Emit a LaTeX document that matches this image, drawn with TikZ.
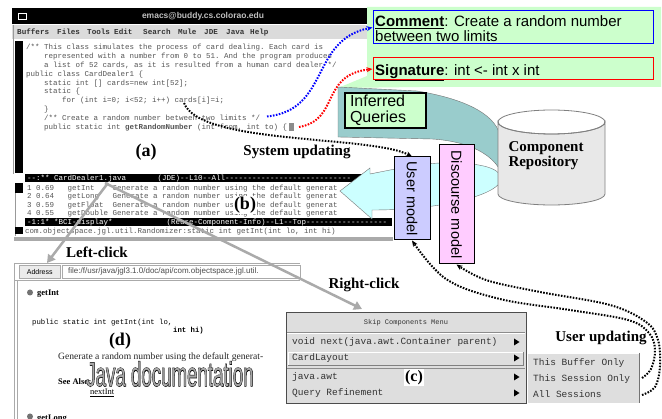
\documentclass[tikz,border=0pt]{standalone}
\usepackage{fontspec}
\usepackage{graphicx}
\setmainfont{Liberation Serif}
\setsansfont{Liberation Sans}
\setmonofont{Liberation Mono}
\newfontfamily\jdocB[FakeBold=3]{Liberation Sans}
\newfontfamily\jdocR{Liberation Sans}
\usetikzlibrary{arrows.meta,shapes.geometric}
\definecolor{calloutgreen}{RGB}{204,255,204}
\definecolor{tealq}{RGB}{153,204,204}
\definecolor{cyanarr}{RGB}{204,255,255}
\definecolor{umodel}{RGB}{204,204,255}
\definecolor{dmodel}{RGB}{255,204,255}
\definecolor{repo}{RGB}{232,232,232}
\definecolor{codegray}{RGB}{85,85,85}
\definecolor{menugray}{RGB}{222,222,222}
\definecolor{framegray}{RGB}{170,170,170}
\tikzset{
  code/.style={anchor=base west, inner sep=0pt, font=\ttfamily\fontsize{7.5}{9}\selectfont, text=codegray},
  modetxt/.style={anchor=base west, inner sep=0pt, font=\ttfamily\fontsize{7.5}{9}\selectfont, text=white},
  menubar/.style={anchor=base west, inner sep=0pt, font=\ttfamily\bfseries\fontsize{7.6}{9}\selectfont, text=black!80},
  lab/.style={font=\bfseries\fontsize{15}{15}\selectfont, inner sep=1pt},
  panel/.style={font=\bfseries\fontsize{18}{18}\selectfont, inner sep=1pt},
  menuitem/.style={anchor=base west, inner sep=0pt, font=\ttfamily\fontsize{9.5}{11}\selectfont, text=black!80},
  sansbig/.style={anchor=base west, inner sep=0pt, font=\sffamily\fontsize{15}{15}\selectfont},
  dotline/.style={line width=2pt, dash pattern=on 1.6pt off 1.4pt},
  grayarrow/.style={draw=framegray, line width=2.5pt, -{Triangle[length=8pt,width=9pt]}},
  modelbox/.style={draw=black, line width=1pt, rotate=-90, inner sep=0pt, font=\sffamily\fontsize{14.5}{14.5}\selectfont},
  doc/.style={anchor=base west, inner sep=0pt},
}
\begin{document}
\begin{tikzpicture}[x=1pt,y=-1pt]
\useasboundingbox (0,0) rectangle (662,419);
\fill[white] (0,0) rectangle (662,419);

% ---------------- (a) emacs window
\fill[black] (12,8) rectangle (367,24);
\node[draw=white, line width=0.8pt, minimum width=8, minimum height=6, inner sep=0pt] (icon) at (22,16) {};
\node[font=\sffamily\bfseries\fontsize{8.5}{9}\selectfont, text=black!25] (title) at (203,16) {emacs@buddy.cs.colorao.edu};
\fill[black!14] (12,25) rectangle (367,39);
\node[menubar] (m1) at (17,35) {Buffers};
\node[menubar] (m2) at (57,35) {Files};
\node[menubar] (m3) at (87,35) {Tools};
\node[menubar] (m4) at (114,35) {Edit};
\node[menubar] (m5) at (143,35) {Search};
\node[menubar] (m6) at (178,35) {Mule};
\node[menubar] (m7) at (204,35) {JDE};
\node[menubar] (m8) at (226,35) {Java};
\node[menubar] (m9) at (250,35) {Help};
\draw[black!40] (13,25) -- (13,174);
\fill[black] (15,41) rectangle (23,173);
\node[code] (c1) at (26,49.5) {/** This class simulates the process of card dealing. Each card is};
\node[code] (c2) at (44,58.4) {represented with a number from 0 to 51. And the program produces};
\node[code] (c3) at (44,67.3) {a list of 52 cards, as it is resulted from a human card dealer */};
\node[code] (c4) at (26,76.2) {public class CardDealer1 \{};
\node[code] (c5) at (44,85.1) {static int [] cards=new int[52];};
\node[code] (c6) at (44,94.0) {static \{};
\node[code] (c7) at (62,102.9) {for (int i=0; i<52; i++) cards[i]=i;};
\node[code] (c8) at (44,111.8) {\}};
\node[code] (c9) at (44,120.7) {/** Create a random number between two limits */};
\node[code] (c10) at (44,129.6) {public static int \textbf{getRandomNumber} (int from, int to) \{};
\node[fill=black!45, minimum width=5, minimum height=8, inner sep=0pt, anchor=south west] (cursor) at ([xshift=1.5pt,yshift=-1.5pt]c10.base east) {};

% ---------------- (b) BCI display
\fill[black] (25,174) rectangle (392,182);
\node[modetxt] (ml1) at (27,180.5) {--:** CardDealer1.java};
\node[modetxt] (ml1b) at (157.5,180.5) {(JDE)--L10--All----------------------------};
\draw[black!40] (15,183) -- (15,236);
\fill[black] (15,183) rectangle (23,193);
\node[code] (b1n) at (27,190.5) {1};
\node[code] (b1s) at (36,190.5) {0.69};
\node[code] (b1m) at (67.5,190.5) {getInt};
\node[code] (b1d) at (112.5,190.5) {Generate a random number using the default generat};
\node[code] (b2n) at (27,199) {2};
\node[code] (b2s) at (36,199) {0.64};
\node[code] (b2m) at (67.5,199) {getLong};
\node[code] (b2d) at (112.5,199) {Generate a random number using the default generat};
\node[code] (b3n) at (27,207.5) {3};
\node[code] (b3s) at (36,207.5) {0.59};
\node[code] (b3m) at (67.5,207.5) {getFloat};
\node[code] (b3d) at (112.5,207.5) {Generate a random number using the default generat};
\node[code] (b4n) at (27,216) {4};
\node[code] (b4s) at (36,216) {0.55};
\node[code] (b4m) at (67.5,216) {getDouble};
\node[code] (b4d) at (112.5,216) {Generate a random number using the default generat};
\fill[black] (25,218) rectangle (392,226);
\node[modetxt] (ml2) at (27,224.5) {-1:1* *BCI-display*};
\node[modetxt] (ml2b) at (166.5,224.5) {(Reuse-Component-Info)--L1--Top------------------};
\fill[black] (15,227.5) rectangle (23,234.5);
\node[code] (mini) at (25,233.5) {com.objectspace.jgl.util.Randomizer:static int getInt(int lo, int hi)};
\fill[framegray] (14,237) rectangle (393,241);

% ---------------- (d) Java documentation window
\draw[framegray, line width=0.8pt] (14,263) -- (300,263);
\node[draw=framegray, fill=black!8, minimum width=41, minimum height=13, anchor=north west, inner sep=0pt, font=\sffamily\fontsize{7}{8}\selectfont] (addr) at (19,265) {Address};
\node[draw=framegray, fill=white, minimum width=238, minimum height=13, anchor=north west, inner sep=0pt] (addrfield) at (62,265) {};
\node[anchor=west, font=\sffamily\fontsize{8}{8}\selectfont, text=black!70, inner sep=0pt] (url) at (68,271.5) {file:/f/usr/java/jgl3.1.0/doc/api/com.objectspace.jgl.util.};
\draw[framegray] (14,280) -- (300,280);
\draw[framegray, line width=1pt] (14,263) -- (14,419);
\draw[framegray] (17,280) -- (17,419);
\fill[black!55] (30,292.5) circle[radius=3];
\node[doc, font=\bfseries\fontsize{8.5}{9}\selectfont] (d1) at (37,296) {getInt};
\node[doc, font=\ttfamily\fontsize{7.3}{9}\selectfont] (d2) at (32,324.5) {public static int getInt(int lo,};
\node[doc, font=\ttfamily\bfseries\fontsize{7.3}{9}\selectfont] (d3) at (173,333) {int hi)};
\node[doc, font=\fontsize{9.6}{10}\selectfont, text=black!85] (d4) at (58,359.5) {Generate a random number using the default generat-};
\node[doc, font=\bfseries\fontsize{8.5}{9}\selectfont] (d5) at (58,385) {See Also:};
\node[doc, font=\fontsize{8.5}{9}\selectfont] (d6) at (90,395) {\underline{nextInt}};
\node[inner sep=0pt] (jdb) at (170,374) {\scalebox{0.55}[1]{\jdocB\fontsize{34}{34}\selectfont Java documentation}};
\node[inner sep=0pt, text=black!35] (jd) at (170,374) {\scalebox{0.55}[1]{\jdocR\fontsize{34}{34}\selectfont Java documentation}};
\fill[black!55] (30,416.5) circle[radius=3];
\node[doc, font=\bfseries\fontsize{8.5}{9}\selectfont] (d7) at (37,421) {getLong};

% ---------------- gray click arrows
\coordinate (srcL) at (108,183);
\coordinate (srcR) at (105,183);
\coordinate (dtop) at (47,263);
\coordinate (ctop) at (362,309);
\draw[grayarrow] (srcL) -- (dtop);
\draw[grayarrow] (srcR) -- (ctop);

% ---------------- (c) Skip Components Menu
\node[draw=black!70, line width=1.2pt, fill=menugray, minimum width=240, minimum height=91, anchor=north west, inner sep=0pt] (menu) at (286,312) {};
\node[font=\ttfamily\fontsize{7}{8}\selectfont, text=black!80, inner sep=0pt] (mtitle) at (406,322.5) {Skip Components Menu};
\draw[black!45] (287,332) -- (525,332);
\draw[white] (287,333.5) -- (525,333.5);
\node[menuitem] (mi1) at (292,345) {void next(java.awt.Container parent)};
\draw[white, line width=1pt] (288,365.5) -- (288,352.5) -- (523,352.5);
\draw[black!50, line width=1pt] (288,365.5) -- (523,365.5) -- (523,352.5);
\node[menuitem] (mi2) at (292,361) {CardLayout};
\draw[black!45] (287,368) -- (525,368);
\node[menuitem] (mi3) at (292,380) {java.awt};
\node[menuitem] (mi4) at (292,396) {Query Refinement};
\fill[black] (514,338.5) -- (519.5,342) -- (514,345.5) -- cycle;
\fill[black] (514,354.5) -- (519.5,358) -- (514,361.5) -- cycle;
\fill[black] (514,373.5) -- (519.5,377) -- (514,380.5) -- cycle;
\fill[black] (514,389.5) -- (519.5,393) -- (514,396.5) -- cycle;
\node[fill=white, inner sep=1.5pt, font=\bfseries\fontsize{16}{16}\selectfont] (pc) at (414,377.5) {(c)};

\node[fill=menugray, minimum width=112, minimum height=50, anchor=north west, inner sep=0pt] (submenu) at (528,353) {};
\draw[black!55, line width=1.5pt] (639.5,353) -- (639.5,403);
\draw[white, line width=0.8pt] (528,353.5) -- (639,353.5);
\node[menuitem] (s1) at (533,365.5) {This Buffer Only};
\node[menuitem] (s2) at (533,381.5) {This Session Only};
\node[menuitem] (s3) at (533,398) {All Sessions};
\coordinate (sessR) at (642,378);
\coordinate (allR) at (642,395);

% ---------------- green callout with comment and signature
\fill[calloutgreen] (367,7) -- (661,7) -- (661,87) -- (420,87) -- (338,88) -- (367,76) -- cycle;
\node[draw=blue, line width=1pt, minimum width=280, minimum height=33, inner sep=0pt] (comment) at (513,27.5) {};
\node[sansbig] (cmt1) at (375,27) {\underline{\textbf{Comment}}: Create a random number};
\node[sansbig] (cmt2) at (375,42) {between two limits};
\node[draw=red, line width=1pt, minimum width=280, minimum height=22, inner sep=0pt] (sig) at (513,69) {};
\node[sansbig] (sigt) at (375,76) {\underline{\textbf{Signature}}: int <- int x int};

% ---------------- teal inferred-queries band
\filldraw[fill=tealq, draw=black!55, line width=0.4pt] (338,87) -- (417,91) .. controls (460,98) and (494,112) .. (500,135) -- (500,170) .. controls (490,152) and (465,141) .. (432,139) -- (338,137) -- cycle;
\node[draw=black, line width=1.3pt, fill=calloutgreen, minimum width=81, minimum height=35, text width=71, align=left, inner xsep=5pt, inner ysep=1pt, font=\sffamily\fontsize{16}{16}\selectfont] (iq) at (385.5,110.5) {Inferred\\Queries};

% ---------------- cyan arrow back to (b)
\filldraw[fill=cyanarr, draw=black!55, line width=0.4pt] (340,191) -- (370,168) -- (370,174) .. controls (400,168) and (420,164) .. (440,163) .. controls (480,162) and (500,168) .. (501,178) .. controls (502,190) and (470,200) .. (440,205) .. controls (420,208) and (400,210) .. (372,210) -- (372,219) -- cycle;

% ---------------- component repository cylinder
\filldraw[fill=repo, draw=black!50, line width=0.8pt] (498,122) -- (498,194) arc[start angle=180, end angle=0, x radius=53.5, y radius=11] -- (605,122) arc[start angle=0, end angle=180, x radius=53.5, y radius=12] -- cycle;
\draw[black!50, line width=0.8pt] (551.5,122) ellipse[x radius=53.5, y radius=12];
\node[align=left, inner sep=0pt, font=\bfseries\fontsize{15}{15}\selectfont] (repo) at (546,156) {Component\\Repository};

% ---------------- models
\node[modelbox, fill=umodel, minimum width=83, minimum height=36] (um) at (412,198.5) {User model};
\node[modelbox, fill=dmodel, minimum width=119, minimum height=35] (dm) at (456.5,204.5) {Discourse model};

% ---------------- dotted connectors
\coordinate (cmtsrc) at (267,116.5);
\coordinate (sigsrc) at (299,127);
\coordinate (cardsP) at (184,103);
\draw[dotline, blue, -{Stealth[length=6pt,width=5pt]}] (cmtsrc) .. controls (330,110) and (310,40) .. (comment.west);
\draw[dotline, red, -{Stealth[length=6pt,width=5pt]}] (sigsrc) .. controls (340,120) and (320,75) .. (sig.west);
\draw[dotline, black, -{Stealth[length=6pt,width=5pt]}] (cardsP) .. controls (200,145) and (370,135) .. (um.west);
\draw[dotline, black, -{Stealth[length=6pt,width=5pt]}] plot[smooth, tension=0.6] coordinates {(sessR) (651,369) (655,350) (649,333) (628,320) (570,310) (500,299) (446,279) (um.east)};
\draw[dotline, black, -{Stealth[length=6pt,width=5pt]}] plot[smooth, tension=0.6] coordinates {(allR) (655,387) (660,366) (658,340) (646,322) (610,305) (540,292) (486,280) (dm.east)};

% ---------------- labels
\node[panel] (pa) at (146,152) {(a)};
\node[panel, fill=white] (pb) at (245,205) {(b)};
\node[panel] (pd) at (120,341) {(d)};
\node[lab] (supd) at (297,152) {System updating};
\node[lab] (lclick) at (97,252) {Left-click};
\node[lab] (rclick) at (364,285) {Right-click};
\node[lab] (uupd) at (601,338) {User updating};
\end{tikzpicture}
\end{document}
